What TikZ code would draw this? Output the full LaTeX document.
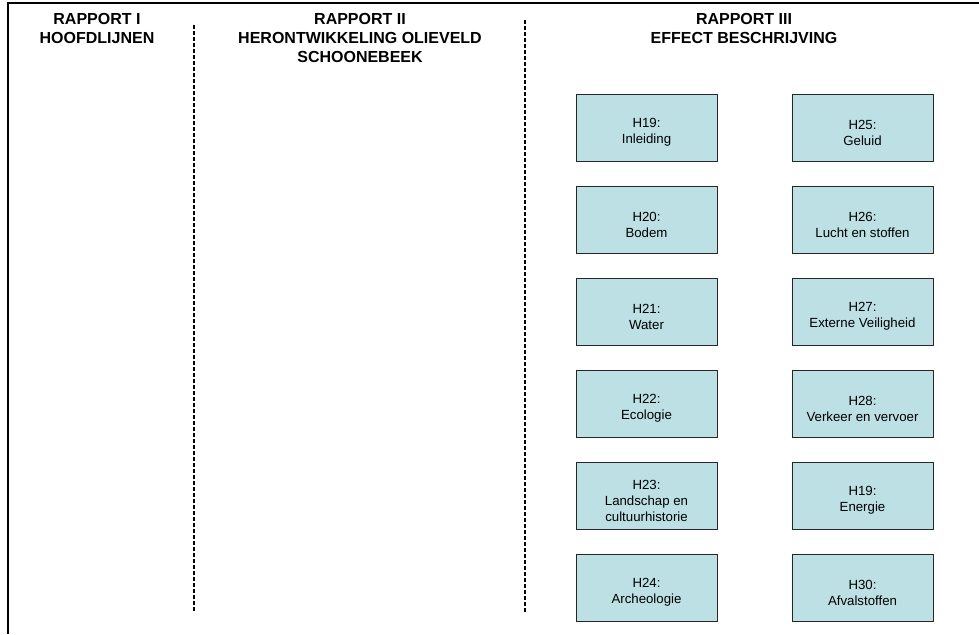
\documentclass[tikz,border=0pt]{standalone}
\usepackage{fontspec}
\setmainfont{Liberation Sans}
\usetikzlibrary{positioning}
\definecolor{boxfill}{RGB}{188,224,228}
\newcommand{\kop}{\rule{0pt}{19.5pt}}

\begin{document}
\begin{tikzpicture}[x=1pt, y=-1pt, on grid,
    titel/.style={font=\bfseries\fontsize{16}{19}\selectfont, align=center, anchor=north, inner sep=0pt},
    hoofdstuk/.style={draw=black!85, fill=boxfill, line width=1pt, minimum width=141pt,
      minimum height=67pt, align=center, inner sep=0pt, font=\fontsize{13.25}{16}\selectfont},
    scheiding/.style={dash pattern=on 4pt off 2pt, line width=1.6pt}]
    \useasboundingbox (0,0) rectangle (979,634);

    % kader
    \coordinate (kl) at (8,634);
    \coordinate (kh) at (8,3);
    \coordinate (kr) at (979,3);
    \draw[line width=2pt] (kl) -- (kh) -- (kr);

    % scheidingslijnen
    \coordinate (s1a) at (194,25);
    \coordinate (s1b) at (194,611);
    \coordinate (s2a) at (525,20);
    \coordinate (s2b) at (525,612);
    \draw[scheiding] (s1a) -- (s1b);
    \draw[scheiding] (s2a) -- (s2b);

    % titels
    \node[titel] (r1) at (97,13) {RAPPORT I\\HOOFDLIJNEN};
    \node[titel] (r2) at (360,13) {RAPPORT II\\HERONTWIKKELING OLIEVELD\\SCHOONEBEEK};
    \node[titel] (r3) at (744,13) {RAPPORT III\\EFFECT BESCHRIJVING};

    % hoofdstukken
    \node[hoofdstuk] (inleiding) at (646.5,127.5) {\kop H19:\\Inleiding};
    \node[hoofdstuk, below=92pt of inleiding] (bodem) {\kop H20:\\Bodem};
    \node[hoofdstuk, below=92pt of bodem] (water) {\kop H21:\\Water};
    \node[hoofdstuk, below=92pt of water] (ecologie) {\kop H22:\\Ecologie};
    \node[hoofdstuk, below=92pt of ecologie] (landschap) {\kop H23:\\Landschap en\\cultuurhistorie};
    \node[hoofdstuk, below=92pt of landschap] (archeologie) {\kop H24:\\Archeologie};

    \node[hoofdstuk, right=216pt of inleiding] (geluid) {\kop H25:\\Geluid};
    \node[hoofdstuk, below=92pt of geluid] (lucht) {\kop H26:\\Lucht en stoffen};
    \node[hoofdstuk, below=92pt of lucht] (veiligheid) {\kop H27:\\Externe Veiligheid};
    \node[hoofdstuk, below=92pt of veiligheid] (verkeer) {\kop H28:\\Verkeer en vervoer};
    \node[hoofdstuk, below=92pt of verkeer] (energie) {\kop H19:\\Energie};
    \node[hoofdstuk, below=92pt of energie] (afval) {\kop H30:\\Afvalstoffen};
\end{tikzpicture}
\end{document}
